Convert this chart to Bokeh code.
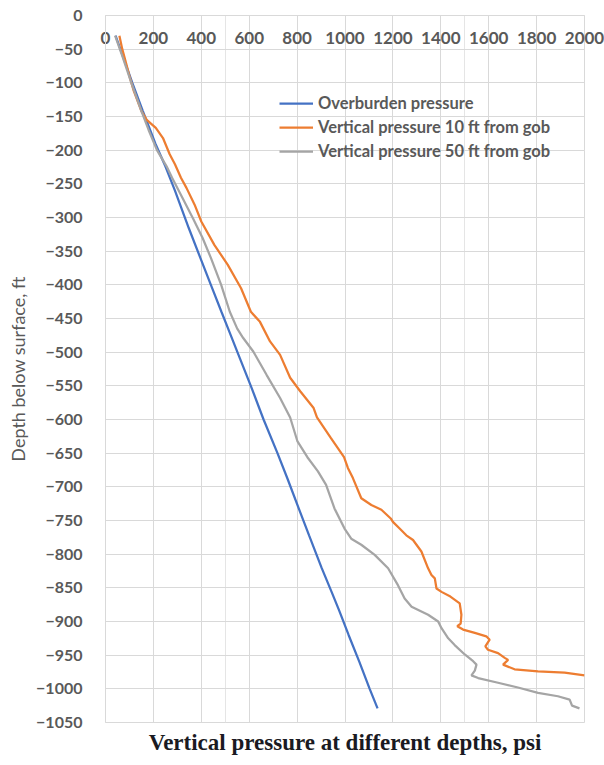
from bokeh.plotting import figure
from bokeh.models import (LinearAxis, SingleIntervalTicker, Title, Legend, LegendItem,
                          Grid, Range1d)
from bokeh.embed import file_html
from bokeh.resources import INLINE

# ---- data ----
depth_ob = [-30, -60, -100, -142, -190, -224, -260, -316, -360, -400, -440, -465, -510,
            -553, -600, -650, -688, -733, -772, -820, -856, -883, -920, -960, -1000, -1029]
press_ob = [42, 72, 112, 156, 208, 250, 290, 348, 396, 440, 484, 512, 562,
            610, 660, 718, 760, 808, 850, 902, 944, 975, 1015, 1060, 1103, 1136]

depth_10 = [-30, -50, -67, -90, -112, -142, -155, -167, -182, -206, -221, -241, -256, -281,
            -306, -341, -370, -405, -440, -455, -484, -504, -538, -558, -583, -597, -627,
            -656, -672, -687, -717, -727, -734, -747, -752, -762, -772, -779, -796, -821,
            -831, -836, -851, -856, -863, -873, -890, -903, -907, -912, -917, -922, -927,
            -937, -942, -947, -954, -957, -964, -971, -974, -976, -980]
press_10 = [58, 70, 83, 100, 118, 150, 172, 210, 240, 268, 290, 315, 338, 372,
            400, 455, 510, 566, 607, 645, 687, 729, 771, 813, 869, 883, 940,
            996, 1012, 1033, 1068, 1110, 1152, 1191, 1200, 1228, 1256, 1284, 1319, 1347,
            1361, 1375, 1382, 1403, 1440, 1479, 1486, 1483, 1469, 1493, 1542, 1590, 1604,
            1586, 1597, 1639, 1667, 1681, 1660, 1708, 1806, 1917, 2000]

depth_50 = [-30, -60, -100, -142, -170, -200, -224, -241, -270, -301, -330, -360, -400,
            -440, -465, -479, -499, -534, -568, -597, -632, -656, -677, -697, -732, -762,
            -777, -786, -801, -821, -846, -866, -878, -890, -900, -910, -925, -935, -949,
            -959, -964, -973, -980, -984, -991, -998, -1006, -1011, -1016, -1025, -1029]
press_50 = [40, 70, 108, 150, 180, 215, 255, 278, 320, 365, 405, 440, 483,
            519, 550, 575, 617, 673, 729, 771, 801, 843, 887, 921, 956, 998,
            1026, 1068, 1124, 1180, 1221, 1249, 1278, 1347, 1389, 1403, 1431, 1458, 1500,
            1535, 1549, 1542, 1528, 1556, 1639, 1722, 1806, 1889, 1938, 1948, 1979]

series_names = ["Overburden pressure", "Vertical pressure 10 ft from gob",
                "Vertical pressure 50 ft from gob"]
x_title = "Vertical pressure at different depths, psi"
y_title = "Depth below surface, ft"

GRID = "#d9d9d9"
TXT = "#595959"

p = figure(width=604, height=765, output_backend="svg", toolbar_location=None,
           x_range=Range1d(0, 2000), y_range=Range1d(-1050, 0),
           x_axis_location=None, y_axis_location=None,
           min_border_left=105, min_border_right=20, min_border_top=15, min_border_bottom=43)
p.outline_line_color = GRID
p.background_fill_color = "white"
p.border_fill_color = "white"

xt = SingleIntervalTicker(interval=200)
yt = SingleIntervalTicker(interval=50)

# x axis sits at depth 0 (top edge) with its labels drawn just below it, Excel style
xaxis = LinearAxis(ticker=xt)
xaxis.axis_line_color = GRID
xaxis.major_tick_line_color = None
xaxis.minor_tick_line_color = None
xaxis.major_tick_out = 0
xaxis.major_tick_in = 0
xaxis.major_label_text_font = "Lato"
xaxis.major_label_text_font_style = "bold"
xaxis.major_label_text_font_size = "17px"
xaxis.major_label_text_color = TXT
xaxis.major_label_standoff = -32
p.add_layout(xaxis, "above")

yaxis = LinearAxis(ticker=yt)
yaxis.axis_line_color = GRID
yaxis.major_tick_line_color = None
yaxis.minor_tick_line_color = None
yaxis.major_tick_out = 0
yaxis.major_tick_in = 0
yaxis.major_label_text_font = "Lato"
yaxis.major_label_text_font_style = "bold"
yaxis.major_label_text_font_size = "16px"
yaxis.major_label_text_color = TXT
yaxis.major_label_standoff = 19
yaxis.axis_label = y_title
yaxis.axis_label_text_font = "Lato"
yaxis.axis_label_text_font_style = "normal"
yaxis.axis_label_text_font_size = "18px"
yaxis.axis_label_text_color = TXT
yaxis.axis_label_standoff = 4
p.add_layout(yaxis, "left")

p.add_layout(Grid(dimension=0, ticker=xt, grid_line_color=GRID, grid_line_width=1))
p.add_layout(Grid(dimension=1, ticker=yt, grid_line_color=GRID, grid_line_width=1))

r_ob = p.line(press_ob, depth_ob, line_color="#4472C4", line_width=2.25)
r_10 = p.line(press_10, depth_10, line_color="#ED7D31", line_width=2.25)
r_50 = p.line(press_50, depth_50, line_color="#A5A5A5", line_width=2.25)

legend = Legend(items=[LegendItem(label=series_names[0], renderers=[r_ob]),
                       LegendItem(label=series_names[1], renderers=[r_10]),
                       LegendItem(label=series_names[2], renderers=[r_50])],
                location=(174, 559))
legend.padding = 0
legend.margin = 0
legend.spacing = 0
legend.label_height = 24
legend.glyph_height = 24
legend.glyph_width = 34
legend.label_standoff = 5
legend.border_line_color = None
legend.background_fill_alpha = 0
legend.label_text_font = "Lato"
legend.label_text_font_style = "bold"
legend.label_text_font_size = "16.5px"
legend.label_text_color = TXT
p.add_layout(legend)

p.add_layout(Title(text=x_title, align="center", text_font="Liberation Serif",
                   text_font_style="bold", text_font_size="23px", text_color="#1a1a22"),
             "below")

open("out.html", "w").write(file_html(p, INLINE))
